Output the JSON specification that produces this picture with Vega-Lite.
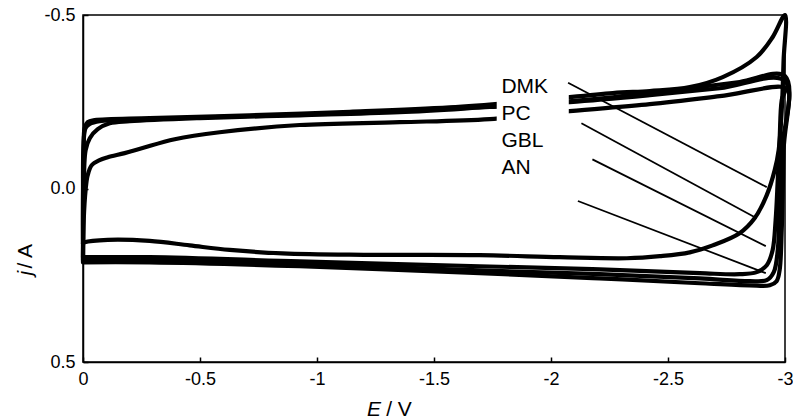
{
  "$schema": "https://vega.github.io/schema/vega-lite/v6.json",
  "width": 702,
  "height": 347,
  "autosize": {"type": "none"},
  "padding": {"left": 83, "top": 15, "right": 8, "bottom": 58},
  "background": "white",
  "config": {
    "view": {"stroke": "black", "strokeWidth": 1.5},
    "font": "Liberation Sans",
    "axis": {"grid": false}
  },
  "datasets": {
    "cv": [
      {"s": "DMK", "i": 1, "E": 0, "j": 0.158},
      {"s": "DMK", "i": 2, "E": 0, "j": 0.034},
      {"s": "DMK", "i": 3, "E": -0.003, "j": -0.111},
      {"s": "DMK", "i": 4, "E": -0.007, "j": -0.174},
      {"s": "DMK", "i": 5, "E": -0.02, "j": -0.191},
      {"s": "DMK", "i": 6, "E": -0.05, "j": -0.197},
      {"s": "DMK", "i": 7, "E": -0.285, "j": -0.203},
      {"s": "DMK", "i": 8, "E": -0.712, "j": -0.211},
      {"s": "DMK", "i": 9, "E": -1.14, "j": -0.221},
      {"s": "DMK", "i": 10, "E": -1.567, "j": -0.234},
      {"s": "DMK", "i": 11, "E": -1.909, "j": -0.252},
      {"s": "DMK", "i": 12, "E": -2.264, "j": -0.275},
      {"s": "DMK", "i": 13, "E": -2.422, "j": -0.281},
      {"s": "DMK", "i": 14, "E": -2.593, "j": -0.292},
      {"s": "DMK", "i": 15, "E": -2.734, "j": -0.321},
      {"s": "DMK", "i": 16, "E": -2.879, "j": -0.379},
      {"s": "DMK", "i": 17, "E": -2.947, "j": -0.436},
      {"s": "DMK", "i": 18, "E": -3.0, "j": -0.5},
      {"s": "DMK", "i": 19, "E": -2.994, "j": -0.37},
      {"s": "DMK", "i": 20, "E": -2.986, "j": -0.225},
      {"s": "DMK", "i": 21, "E": -2.973, "j": -0.111},
      {"s": "DMK", "i": 22, "E": -2.956, "j": -0.053},
      {"s": "DMK", "i": 23, "E": -2.922, "j": 0.019},
      {"s": "DMK", "i": 24, "E": -2.87, "j": 0.086},
      {"s": "DMK", "i": 25, "E": -2.806, "j": 0.129},
      {"s": "DMK", "i": 26, "E": -2.691, "j": 0.164},
      {"s": "DMK", "i": 27, "E": -2.593, "j": 0.184},
      {"s": "DMK", "i": 28, "E": -2.465, "j": 0.195},
      {"s": "DMK", "i": 29, "E": -2.324, "j": 0.201},
      {"s": "DMK", "i": 30, "E": -2.037, "j": 0.198},
      {"s": "DMK", "i": 31, "E": -1.695, "j": 0.192},
      {"s": "DMK", "i": 32, "E": -1.2, "j": 0.191},
      {"s": "DMK", "i": 33, "E": -0.853, "j": 0.187},
      {"s": "DMK", "i": 34, "E": -0.627, "j": 0.177},
      {"s": "DMK", "i": 35, "E": -0.456, "j": 0.164},
      {"s": "DMK", "i": 36, "E": -0.285, "j": 0.151},
      {"s": "DMK", "i": 37, "E": -0.106, "j": 0.148},
      {"s": "DMK", "i": 38, "E": -0.007, "j": 0.155},
      {"s": "DMK", "i": 39, "E": 0, "j": 0.158},

      {"s": "PC", "i": 1, "E": 0, "j": 0.213},
      {"s": "PC", "i": 2, "E": 0, "j": 0.034},
      {"s": "PC", "i": 3, "E": -0.003, "j": -0.139},
      {"s": "PC", "i": 4, "E": -0.011, "j": -0.174},
      {"s": "PC", "i": 5, "E": -0.029, "j": -0.186},
      {"s": "PC", "i": 6, "E": -0.071, "j": -0.194},
      {"s": "PC", "i": 7, "E": -0.285, "j": -0.2},
      {"s": "PC", "i": 8, "E": -0.712, "j": -0.209},
      {"s": "PC", "i": 9, "E": -1.14, "j": -0.217},
      {"s": "PC", "i": 10, "E": -1.567, "j": -0.232},
      {"s": "PC", "i": 11, "E": -1.909, "j": -0.243},
      {"s": "PC", "i": 12, "E": -2.264, "j": -0.263},
      {"s": "PC", "i": 13, "E": -2.593, "j": -0.289},
      {"s": "PC", "i": 14, "E": -2.806, "j": -0.307},
      {"s": "PC", "i": 15, "E": -3.0, "j": -0.324},
      {"s": "PC", "i": 16, "E": -2.994, "j": -0.11},
      {"s": "PC", "i": 17, "E": -2.986, "j": 0.12},
      {"s": "PC", "i": 18, "E": -2.977, "j": 0.235},
      {"s": "PC", "i": 19, "E": -2.964, "j": 0.267},
      {"s": "PC", "i": 20, "E": -2.935, "j": 0.279},
      {"s": "PC", "i": 21, "E": -2.849, "j": 0.279},
      {"s": "PC", "i": 22, "E": -2.636, "j": 0.273},
      {"s": "PC", "i": 23, "E": -2.208, "j": 0.259},
      {"s": "PC", "i": 24, "E": -1.695, "j": 0.244},
      {"s": "PC", "i": 25, "E": -0.926, "j": 0.224},
      {"s": "PC", "i": 26, "E": -0.285, "j": 0.213},
      {"s": "PC", "i": 27, "E": 0, "j": 0.213},

      {"s": "GBL", "i": 1, "E": 0, "j": 0.207},
      {"s": "GBL", "i": 2, "E": -0.003, "j": 0.034},
      {"s": "GBL", "i": 3, "E": -0.011, "j": -0.11},
      {"s": "GBL", "i": 4, "E": -0.029, "j": -0.145},
      {"s": "GBL", "i": 5, "E": -0.063, "j": -0.171},
      {"s": "GBL", "i": 6, "E": -0.114, "j": -0.188},
      {"s": "GBL", "i": 7, "E": -0.2, "j": -0.194},
      {"s": "GBL", "i": 8, "E": -0.499, "j": -0.203},
      {"s": "GBL", "i": 9, "E": -0.926, "j": -0.211},
      {"s": "GBL", "i": 10, "E": -1.353, "j": -0.22},
      {"s": "GBL", "i": 11, "E": -1.738, "j": -0.235},
      {"s": "GBL", "i": 12, "E": -2.08, "j": -0.249},
      {"s": "GBL", "i": 13, "E": -2.422, "j": -0.269},
      {"s": "GBL", "i": 14, "E": -2.721, "j": -0.289},
      {"s": "GBL", "i": 15, "E": -3.0, "j": -0.31},
      {"s": "GBL", "i": 16, "E": -2.986, "j": -0.11},
      {"s": "GBL", "i": 17, "E": -2.977, "j": 0.034},
      {"s": "GBL", "i": 18, "E": -2.969, "j": 0.178},
      {"s": "GBL", "i": 19, "E": -2.952, "j": 0.241},
      {"s": "GBL", "i": 20, "E": -2.922, "j": 0.264},
      {"s": "GBL", "i": 21, "E": -2.849, "j": 0.267},
      {"s": "GBL", "i": 22, "E": -2.636, "j": 0.259},
      {"s": "GBL", "i": 23, "E": -2.208, "j": 0.247},
      {"s": "GBL", "i": 24, "E": -1.695, "j": 0.236},
      {"s": "GBL", "i": 25, "E": -0.926, "j": 0.218},
      {"s": "GBL", "i": 26, "E": -0.285, "j": 0.207},
      {"s": "GBL", "i": 27, "E": 0, "j": 0.207},

      {"s": "AN", "i": 1, "E": 0, "j": 0.198},
      {"s": "AN", "i": 2, "E": -0.003, "j": 0.091},
      {"s": "AN", "i": 3, "E": -0.011, "j": 0.005},
      {"s": "AN", "i": 4, "E": -0.02, "j": -0.038},
      {"s": "AN", "i": 5, "E": -0.037, "j": -0.067},
      {"s": "AN", "i": 6, "E": -0.071, "j": -0.082},
      {"s": "AN", "i": 7, "E": -0.106, "j": -0.09},
      {"s": "AN", "i": 8, "E": -0.178, "j": -0.102},
      {"s": "AN", "i": 9, "E": -0.251, "j": -0.116},
      {"s": "AN", "i": 10, "E": -0.392, "j": -0.142},
      {"s": "AN", "i": 11, "E": -0.584, "j": -0.162},
      {"s": "AN", "i": 12, "E": -0.926, "j": -0.183},
      {"s": "AN", "i": 13, "E": -1.353, "j": -0.191},
      {"s": "AN", "i": 14, "E": -1.738, "j": -0.2},
      {"s": "AN", "i": 15, "E": -2.08, "j": -0.223},
      {"s": "AN", "i": 16, "E": -2.422, "j": -0.243},
      {"s": "AN", "i": 17, "E": -2.721, "j": -0.266},
      {"s": "AN", "i": 18, "E": -3.0, "j": -0.289},
      {"s": "AN", "i": 19, "E": -2.986, "j": -0.255},
      {"s": "AN", "i": 20, "E": -2.977, "j": -0.139},
      {"s": "AN", "i": 21, "E": -2.969, "j": -0.024},
      {"s": "AN", "i": 22, "E": -2.96, "j": 0.091},
      {"s": "AN", "i": 23, "E": -2.947, "j": 0.178},
      {"s": "AN", "i": 24, "E": -2.922, "j": 0.221},
      {"s": "AN", "i": 25, "E": -2.879, "j": 0.241},
      {"s": "AN", "i": 26, "E": -2.806, "j": 0.247},
      {"s": "AN", "i": 27, "E": -2.636, "j": 0.244},
      {"s": "AN", "i": 28, "E": -2.208, "j": 0.233},
      {"s": "AN", "i": 29, "E": -1.695, "j": 0.224},
      {"s": "AN", "i": 30, "E": -0.926, "j": 0.21},
      {"s": "AN", "i": 31, "E": -0.285, "j": 0.198},
      {"s": "AN", "i": 32, "E": 0, "j": 0.198}
    ],
    "box": [
      {"E1": -1.768, "E2": -2.076, "j1": -0.33, "j2": -0.02}
    ],
    "leaders": [
      {"s": "DMK", "E1": -2.073, "j1": -0.305, "E2": -2.922, "j2": -0.004},
      {"s": "PC", "E1": -2.13, "j1": -0.188, "E2": -2.879, "j2": 0.086},
      {"s": "GBL", "E1": -2.177, "j1": -0.084, "E2": -2.918, "j2": 0.166},
      {"s": "AN", "E1": -2.115, "j1": 0.036, "E2": -2.918, "j2": 0.244}
    ],
    "labels": [
      {"label": "DMK", "E": -1.788, "j": -0.274},
      {"label": "PC", "E": -1.788, "j": -0.197},
      {"label": "GBL", "E": -1.788, "j": -0.12},
      {"label": "AN", "E": -1.788, "j": -0.043}
    ]
  },
  "layer": [
    {
      "data": {"name": "cv"},
      "mark": {"type": "line", "interpolate": "catmull-rom", "color": "black", "strokeWidth": 4.2, "strokeJoin": "round", "strokeCap": "round"},
      "encoding": {
        "x": {
          "field": "E", "type": "quantitative",
          "scale": {"domain": [-3, 0], "reverse": true, "nice": false, "zero": false},
          "axis": {
            "orient": "bottom",
            "title": "E", "titleFontStyle": "italic", "titleFontWeight": "normal", "titleFontSize": 21, "titleColor": "black",
            "titleX": 283.4, "titleY": 53.3, "titleAlign": "left", "titleBaseline": "alphabetic",
            "values": [0, -0.5, -1, -1.5, -2, -2.5, -3],
            "labelExpr": "'' + datum.value",
            "labelFontSize": 18, "labelColor": "black", "labelPadding": 13, "labelFlush": false, "labelOverlap": false,
            "tickSize": -5, "tickColor": "black", "tickWidth": 1.5,
            "domainColor": "black", "domainWidth": 1.5
          }
        },
        "y": {
          "field": "j", "type": "quantitative",
          "scale": {"domain": [-0.5, 0.5], "reverse": true, "nice": false, "zero": false},
          "axis": {
            "orient": "left",
            "title": "j", "titleFontStyle": "italic", "titleFontWeight": "normal", "titleFontSize": 21, "titleColor": "black",
            "titleAngle": -90, "titleX": -51.6, "titleY": 260, "titleAlign": "left", "titleBaseline": "alphabetic",
            "values": [-0.5, 0, 0.5],
            "labelExpr": "datum.value == 0 ? '0.0' : '' + datum.value",
            "labelFontSize": 18, "labelColor": "black", "labelPadding": 13, "labelFlush": false, "labelOverlap": false,
            "tickSize": -5, "tickColor": "black", "tickWidth": 1.5,
            "domainColor": "black", "domainWidth": 1.5
          }
        },
        "detail": {"field": "s"},
        "order": {"field": "i", "type": "quantitative"}
      }
    },
    {
      "data": {"name": "box"},
      "mark": {"type": "rect", "fill": "white", "strokeWidth": 0},
      "encoding": {
        "x": {"field": "E1", "type": "quantitative", "axis": null},
        "x2": {"field": "E2"},
        "y": {"field": "j1", "type": "quantitative", "axis": null},
        "y2": {"field": "j2"}
      }
    },
    {
      "data": {"name": "leaders"},
      "mark": {"type": "rule", "color": "black", "strokeWidth": 1.75},
      "encoding": {
        "x": {
          "field": "E1", "type": "quantitative",
          "axis": {
            "orient": "bottom", "title": "/ V", "titleFontWeight": "normal", "titleFontSize": 21, "titleColor": "black",
            "titleX": 302.7, "titleY": 53.3, "titleAlign": "left", "titleBaseline": "alphabetic",
            "labels": false, "ticks": false, "domain": false, "grid": false
          }
        },
        "x2": {"field": "E2"},
        "y": {
          "field": "j1", "type": "quantitative",
          "axis": {
            "orient": "left", "title": "/ A", "titleFontWeight": "normal", "titleFontSize": 21, "titleColor": "black",
            "titleAngle": -90, "titleX": -51.6, "titleY": 253, "titleAlign": "left", "titleBaseline": "alphabetic",
            "labels": false, "ticks": false, "domain": false, "grid": false
          }
        },
        "y2": {"field": "j2"}
      }
    },
    {
      "data": {"name": "labels"},
      "mark": {"type": "text", "align": "left", "baseline": "alphabetic", "fontSize": 21, "color": "black", "font": "Liberation Sans"},
      "encoding": {
        "x": {"field": "E", "type": "quantitative", "axis": null},
        "y": {"field": "j", "type": "quantitative", "axis": null},
        "text": {"field": "label"}
      }
    }
  ],
  "resolve": {"axis": {"x": "independent", "y": "independent"}}
}
